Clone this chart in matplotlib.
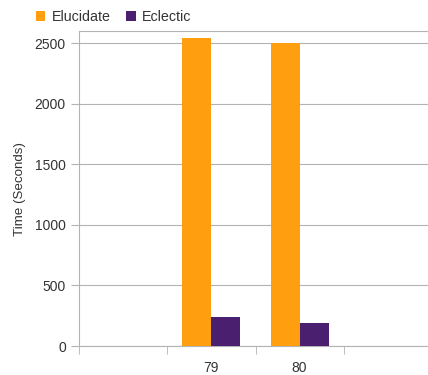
import numpy as np
import matplotlib
matplotlib.use('Agg')
import matplotlib.pyplot as plt

plt.rcParams['font.family'] = ['Liberation Sans', 'DejaVu Sans']

categories = ['', '79', '80', '']
elucidate = [0, 2540, 2500, 0]
eclectic = [0, 238, 190, 0]

fig = plt.figure(figsize=(4.28, 3.75), dpi=100)
ax = fig.add_axes([79 / 428, 1 - 346 / 375, 353 / 428, 315 / 375])

x = np.arange(len(categories))
w = 0.33
ax.bar(x - w / 2, elucidate, w, color='#ff9e0f', label='Elucidate', zorder=3)
ax.bar(x + w / 2, eclectic, w, color='#4b1f6f', label='Eclectic', zorder=3)

ax.set_xlim(-0.5, 3.5)
ax.set_ylim(0, 2600)
ax.set_yticks([0, 500, 1000, 1500, 2000, 2500])
ax.set_xticks(x)
ax.set_xticklabels(categories)
ax.set_xticks(np.arange(-0.5, 4, 1), minor=True)
ax.tick_params(axis='x', which='major', length=0, pad=11, labelsize=10, colors='#333333')
ax.tick_params(axis='x', which='minor', length=6, color='#b3b3b3')
ax.tick_params(axis='y', length=6, labelsize=10, colors='#333333')
ax.tick_params(axis='y', color='#b3b3b3')
ax.yaxis.grid(True, color='#b3b3b3', linewidth=0.8, zorder=0)
for s in ax.spines.values():
    s.set_color('#b3b3b3')
    s.set_linewidth(0.8)
ax.set_ylabel('Time (Seconds)', fontsize=9.6, color='#333333', labelpad=6)

fig.legend(loc='upper left', bbox_to_anchor=(23 / 428, 1.007), ncol=2, frameon=False,
           fontsize=10.3, handlelength=0.65, handleheight=0.65, handletextpad=0.45,
           columnspacing=1.1, labelcolor='#333333')

fig.savefig('out.png', dpi=100)
